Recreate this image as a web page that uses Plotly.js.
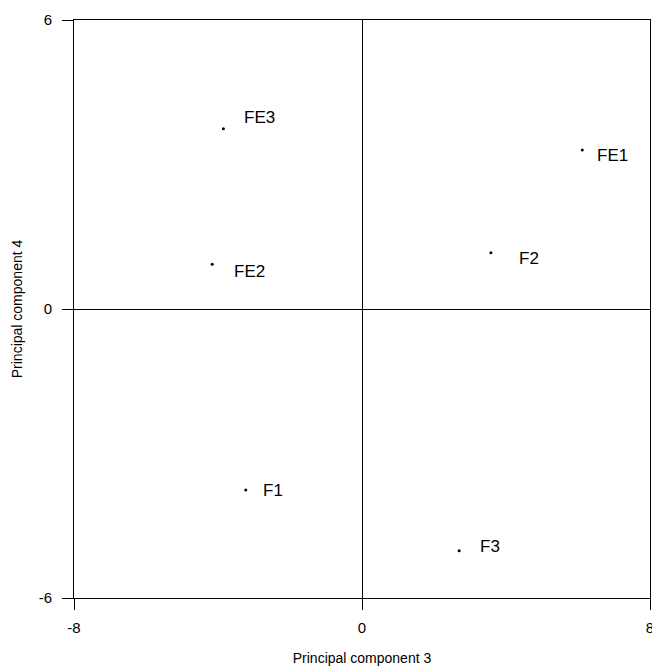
<!DOCTYPE html>
<html>
<head>
<meta charset="utf-8">
<script src="https://cdn.plot.ly/plotly-3.0.1.min.js"></script>
<style>body{margin:0;padding:0;background:#fff}#chart{width:652px;height:666px}</style>
</head>
<body>
<div id="chart"></div>
<script>
const labels = ["FE3", "FE2", "FE1", "F2", "F1", "F3"];
const pc3 = [-3.85, -4.16, 6.12, 3.58, -3.23, 2.70];
const pc4 = [3.74, 0.93, 3.30, 1.17, -3.76, -5.02];
const labelShiftX = [19, 20, 13, 26, 15, 19];
const labelShiftY = [11, -7, -5, -6, 0, 4];
const xTicks = [-8, 0, 8];
const yTicks = [-6, 0, 6];

const font = "Liberation Sans, Arial, sans-serif";

const trace = {
  x: pc3, y: pc4, mode: "markers", type: "scatter",
  marker: {color: "#000", size: 3},
  hoverinfo: "skip", showlegend: false
};

const annotations = labels.map((t, i) => ({
  x: pc3[i], y: pc4[i], xref: "x", yref: "y", text: t, showarrow: false,
  xanchor: "left", yanchor: "middle", xshift: labelShiftX[i], yshift: labelShiftY[i],
  font: {family: font, size: 17, color: "#000"}
}));

const axisCommon = {
  showgrid: false, zeroline: true, zerolinecolor: "#000", zerolinewidth: 1,
  showline: true, linecolor: "#000", linewidth: 1, mirror: true,
  ticks: "outside", ticklen: 11, tickcolor: "#000", tickwidth: 1,
  tickmode: "array", automargin: false, ticklabeloverflow: "allow",
  tickfont: {family: font, size: 15, color: "#000"}
};

const layout = {
  width: 652, height: 666,
  margin: {l: 74, r: 2, t: 20, b: 68},
  paper_bgcolor: "#fff", plot_bgcolor: "#fff",
  xaxis: Object.assign({}, axisCommon, {
    range: [-8, 8], tickvals: xTicks, ticktext: xTicks.map(String), ticklabelstandoff: 5,
    title: {text: "Principal component 3", font: {family: font, size: 14, color: "#000"}, standoff: 19}
  }),
  yaxis: Object.assign({}, axisCommon, {
    range: [-6, 6], tickvals: yTicks, ticktext: yTicks.map(String), ticklabelstandoff: 7,
    title: {text: "Principal component 4", font: {family: font, size: 14, color: "#000"}, standoff: 12}
  }),
  annotations: annotations
};

Plotly.newPlot("chart", [trace], layout, {displayModeBar: false, staticPlot: true});
</script>
</body>
</html>
